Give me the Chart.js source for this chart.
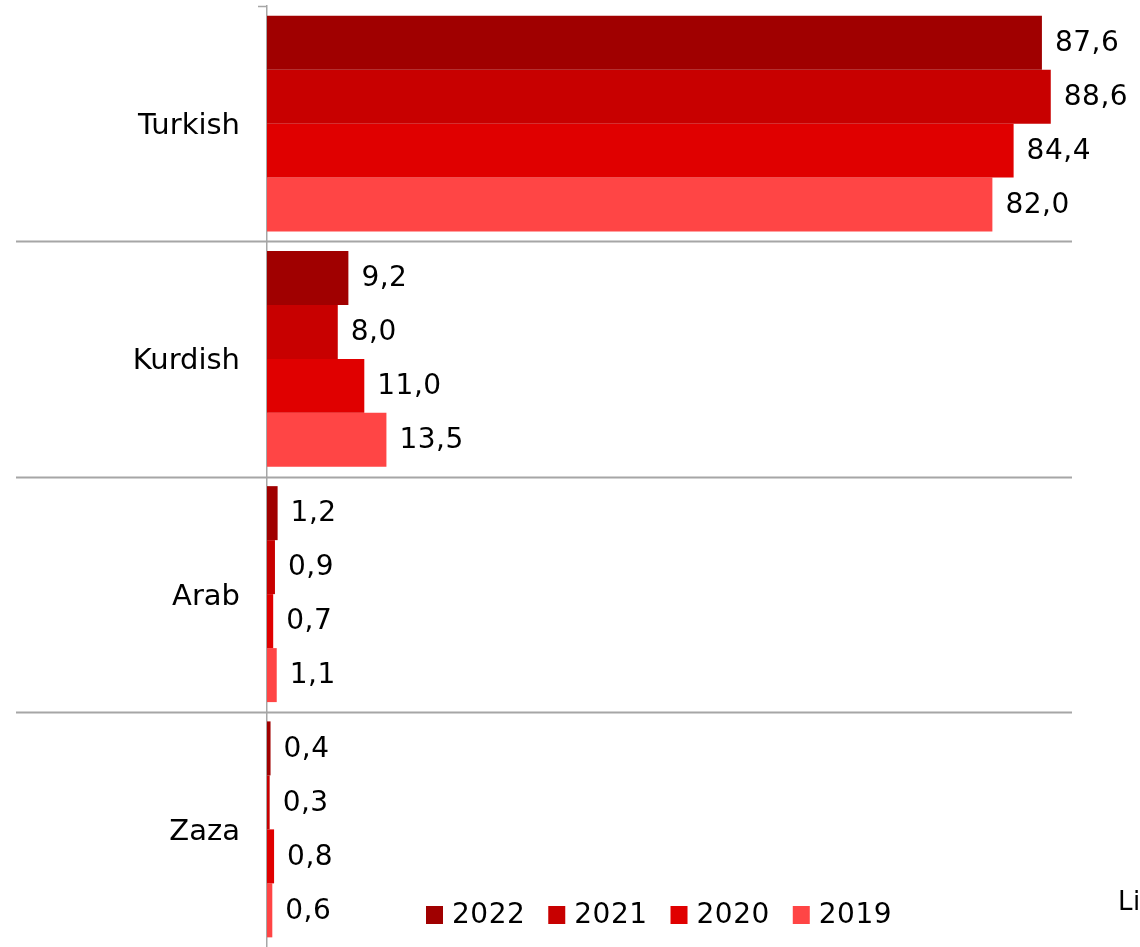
<!DOCTYPE html>
<html>
<head>
<meta charset="utf-8">
<script src="https://cdn.jsdelivr.net/npm/chart.js@4/dist/chart.umd.min.js"></script>
<style>
  html, body { margin: 0; padding: 0; background: #fff; }
  #wrap { width: 1140px; height: 947px; position: relative; }
</style>
</head>
<body>
<div id="wrap"><canvas id="chart"></canvas></div>
<script>
const categories = ['Turkish', 'Kurdish', 'Arab', 'Zaza'];
const seriesNames = ['2022', '2021', '2020', '2019'];
const values2022 = [87.6, 9.2, 1.2, 0.4];
const values2021 = [88.6, 8.0, 0.9, 0.3];
const values2020 = [84.4, 11.0, 0.7, 0.8];
const values2019 = [82.0, 13.5, 1.1, 0.6];
const seriesColors = ['#a00000', '#c80000', '#e00000', '#ff4545'];
const sourceText = 'Li';

const FONT = '"DejaVu Sans", Verdana, sans-serif';
const allValues = [values2022, values2021, values2020, values2019];

// separators between categories, running into the label area
const separators = {
  id: 'separators',
  beforeDatasetsDraw(chart) {
    const { ctx, chartArea, scales } = chart;
    const y = scales.y;
    const step = y.getPixelForValue(1) - y.getPixelForValue(0);
    ctx.save();
    ctx.strokeStyle = '#a6a6a6';
    ctx.lineWidth = 2;
    for (let i = 0; i < categories.length - 1; i++) {
      const py = Math.round(y.getPixelForValue(i) + step / 2) + 0.5;
      ctx.beginPath();
      ctx.moveTo(16, py);
      ctx.lineTo(chartArea.right, py);
      ctx.stroke();
    }
    // small tick at top of axis
    ctx.lineWidth = 1.5;
    ctx.beginPath();
    ctx.moveTo(chartArea.left - 9, chartArea.top + 0.5);
    ctx.lineTo(chartArea.left, chartArea.top + 0.5);
    ctx.stroke();
    ctx.restore();
  }
};

// value labels, legend and source text
const annotate = {
  id: 'annotate',
  afterDatasetsDraw(chart) {
    const { ctx } = chart;
    ctx.save();
    ctx.letterSpacing = '0.5px';
    ctx.font = '28px ' + FONT;
    ctx.fillStyle = '#000';
    ctx.textBaseline = 'middle';
    ctx.textAlign = 'left';
    chart.data.datasets.forEach((ds, di) => {
      chart.getDatasetMeta(di).data.forEach((bar, i) => {
        const txt = ds.data[i].toFixed(1).replace('.', ',');
        ctx.fillText(txt, bar.x + 13, bar.y + 1);
      });
    });

    // legend
    let x = 426;
    const ly = 915;
    seriesNames.forEach((name, i) => {
      ctx.fillStyle = seriesColors[i];
      ctx.fillRect(x, ly - 9, 17, 18);
      ctx.fillStyle = '#000';
      ctx.fillText(name, x + 26, ly + 1);
      x += 26 + ctx.measureText(name).width + 23;
    });

    ctx.font = '26px ' + FONT;
    ctx.fillText(sourceText, 1118, 903);
    ctx.restore();
  }
};

new Chart(document.getElementById('chart'), {
  type: 'bar',
  data: {
    labels: categories,
    datasets: seriesNames.map((name, i) => ({
      label: name,
      data: allValues[i],
      backgroundColor: seriesColors[i],
      borderWidth: 0,
      categoryPercentage: 0.918,
      barPercentage: 1
    }))
  },
  options: {
    indexAxis: 'y',
    responsive: true,
    maintainAspectRatio: false,
    animation: false,
    layout: { padding: { top: 6, right: 68, bottom: 0, left: 0 } },
    plugins: {
      legend: { display: false },
      tooltip: { enabled: false }
    },
    scales: {
      x: {
        display: false,
        min: 0,
        max: 91
      },
      y: {
        afterFit(scale) {
          scale.width = 267;
          scale.paddingTop = 0;
          scale.paddingBottom = 0;
        },
        grid: { display: false, drawTicks: false },
        border: { display: true, color: '#a6a6a6', width: 1.5 },
        ticks: {
          padding: 27,
          labelOffset: 3,
          color: '#000',
          font: { family: FONT, size: 29 }
        }
      }
    }
  },
  plugins: [separators, annotate]
});
</script>
</body>
</html>
